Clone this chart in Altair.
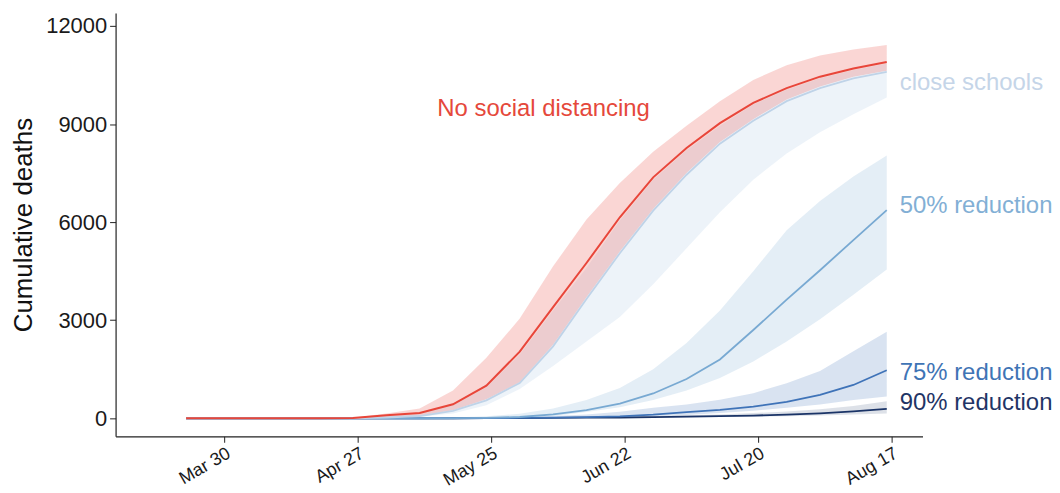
import altair as alt
import pandas as pd

# weekly model dates
dates = ["2020-03-22", "2020-03-29", "2020-04-05", "2020-04-12", "2020-04-19", "2020-04-26",
         "2020-05-03", "2020-05-10", "2020-05-17", "2020-05-24", "2020-05-31", "2020-06-07",
         "2020-06-14", "2020-06-21", "2020-06-28", "2020-07-05", "2020-07-12", "2020-07-19",
         "2020-07-26", "2020-08-02", "2020-08-09", "2020-08-16"]

scenarios = ["No social distancing", "close schools", "50% reduction", "75% reduction", "90% reduction"]
line_colors = ["#e8463a", "#bfd3e8", "#78a9d2", "#3f73b8", "#1b3467"]
band_opacity = [0.22, 0.28, 0.2, 0.2, 0.15]

nosd_mid = [0, 0, 0, 0, 0, 10, 90, 160, 430, 1000, 2040, 3400, 4750, 6150, 7370, 8270, 9030, 9650, 10100, 10450, 10700, 10900]
nosd_hi = [0, 0, 0, 0, 5, 20, 150, 300, 850, 1850, 3050, 4650, 6080, 7200, 8150, 8950, 9700, 10350, 10800, 11100, 11280, 11420]
nosd_lo = [0, 0, 0, 0, 0, 0, 30, 80, 250, 580, 1100, 2250, 3700, 5100, 6400, 7500, 8450, 9150, 9750, 10150, 10450, 10630]

close_mid = [0, 0, 0, 0, 0, 0, 25, 70, 230, 550, 1080, 2200, 3650, 5050, 6350, 7450, 8400, 9100, 9700, 10100, 10400, 10600]
close_hi = [0, 0, 0, 0, 0, 8, 80, 150, 400, 950, 1950, 3300, 4600, 6050, 7300, 8200, 8950, 9600, 10050, 10400, 10650, 10850]
close_lo = [0, 0, 0, 0, 0, 0, 15, 50, 150, 400, 900, 1600, 2350, 3100, 4100, 5200, 6300, 7300, 8100, 8750, 9300, 9810]

r50_mid = [0, 0, 0, 0, 0, 0, 0, 2, 5, 15, 40, 120, 250, 450, 760, 1200, 1800, 2700, 3630, 4530, 5450, 6370]
r50_hi = [0, 0, 0, 0, 0, 0, 2, 8, 25, 60, 140, 300, 560, 930, 1500, 2300, 3300, 4500, 5750, 6650, 7400, 8040]
r50_lo = [0, 0, 0, 0, 0, 0, 0, 0, 2, 5, 15, 60, 190, 340, 560, 850, 1230, 1740, 2350, 3030, 3780, 4550]

r75_mid = [0, 0, 0, 0, 0, 0, 0, 0, 0, 5, 10, 20, 35, 60, 110, 190, 260, 360, 500, 720, 1020, 1470]
r75_hi = [0, 0, 0, 0, 0, 0, 0, 0, 5, 15, 35, 70, 120, 200, 320, 420, 570, 770, 1070, 1450, 2050, 2650]
r75_lo = [0, 0, 0, 0, 0, 0, 0, 0, 0, 0, 3, 8, 15, 30, 60, 100, 160, 230, 320, 420, 560, 670]

r90_mid = [0, 0, 0, 0, 0, 0, 0, 0, 2, 5, 8, 12, 18, 25, 35, 50, 65, 85, 110, 150, 210, 290]
r90_hi = [0, 0, 0, 0, 0, 0, 0, 2, 5, 10, 15, 22, 32, 45, 65, 90, 120, 160, 210, 280, 380, 520]
r90_lo = [0, 0, 0, 0, 0, 0, 0, 0, 0, 2, 4, 6, 10, 14, 20, 28, 38, 50, 65, 85, 115, 150]

mids = [nosd_mid, close_mid, r50_mid, r75_mid, r90_mid]
his = [nosd_hi, close_hi, r50_hi, r75_hi, r90_hi]
los = [nosd_lo, close_lo, r50_lo, r75_lo, r90_lo]

# label anchors (value on y axis where each label sits)
label_values = [9450, 10270, 6490, 1400, 460]
label_colors = ["#e5483b", "#c5d5e8", "#82afd5", "#3f74b5", "#1f3566"]

rows = []
for s, m, h, l in zip(scenarios, mids, his, los):
    for d, mv, hv, lv in zip(dates, m, h, l):
        rows.append({"date": d + "T00:00:00", "scen": s, "mid": mv, "hi": hv, "lo": lv})
df = pd.DataFrame(rows)

FONT = "Liberation Sans"

xscale = alt.Scale(domain=[alt.DateTime(year=2020, month=3, date=7, hours=5),
                           alt.DateTime(year=2020, month=8, date=23, hours=12)])
yscale = alt.Scale(domain=[-550, 12400], nice=False, zero=False)

xaxis = alt.Axis(
    title=None, format="%b %d", labelAngle=-30, labelFontSize=18,
    values=[alt.DateTime(year=2020, month=3, date=30), alt.DateTime(year=2020, month=4, date=27),
            alt.DateTime(year=2020, month=5, date=25), alt.DateTime(year=2020, month=6, date=22),
            alt.DateTime(year=2020, month=7, date=20), alt.DateTime(year=2020, month=8, date=17)],
    grid=False, labelPadding=2,
)
yaxis = alt.Axis(title="Cumulative deaths", values=[0, 3000, 6000, 9000, 12000], format="d",
                 labelFontSize=22, titleFontSize=26, titleFontWeight="normal", titlePadding=9,
                 grid=False)

layers = []
order = [4, 3, 2, 1, 0]
for i in order:
    s = scenarios[i]
    layers.append(
        alt.Chart(df).transform_filter(alt.datum.scen == s)
        .mark_area(color=line_colors[i], opacity=band_opacity[i])
        .encode(x=alt.X("date:T", scale=xscale, axis=xaxis),
                y=alt.Y("lo:Q", scale=yscale, axis=yaxis), y2="hi:Q")
    )
for i in order:
    s = scenarios[i]
    layers.append(
        alt.Chart(df).transform_filter(alt.datum.scen == s)
        .mark_line(color=line_colors[i], strokeWidth=2 if i == 0 else 1.8)
        .encode(x=alt.X("date:T", scale=xscale, axis=xaxis),
                y=alt.Y("mid:Q", scale=yscale, axis=yaxis))
    )

lab_df = pd.DataFrame({
    "date": ["2020-06-05T00:00:00"] + [dates[-1] + "T00:00:00"] * 4,
    "value": label_values,
    "text": scenarios,
    "col": label_colors,
})

layers.append(
    alt.Chart(lab_df.iloc[[0]]).mark_text(align="center", baseline="middle", fontSize=24, font=FONT)
    .encode(x=alt.X("date:T", scale=xscale), y=alt.Y("value:Q", scale=yscale),
            text="text:N", color=alt.Color("col:N", scale=None))
)
layers.append(
    alt.Chart(lab_df.iloc[1:]).mark_text(align="left", baseline="middle", dx=13, fontSize=24, font=FONT)
    .encode(x=alt.X("date:T", scale=xscale), y=alt.Y("value:Q", scale=yscale),
            text="text:N", color=alt.Color("col:N", scale=None))
)

chart = alt.layer(*layers).properties(
    width=810, height=425,
    autosize=alt.AutoSizeParams(type="none"),
    padding={"left": 108, "top": 4, "right": 130, "bottom": 55},
).configure_view(stroke=None).configure_axis(
    labelFont=FONT, titleFont=FONT, labelColor="#1a1a1a", titleColor="#111",
    domainColor="#222", tickColor="#222", tickSize=6, labelPadding=3, domainWidth=1.2,
)

chart.save("out.html", embed_options={"renderer": "svg", "actions": False})
